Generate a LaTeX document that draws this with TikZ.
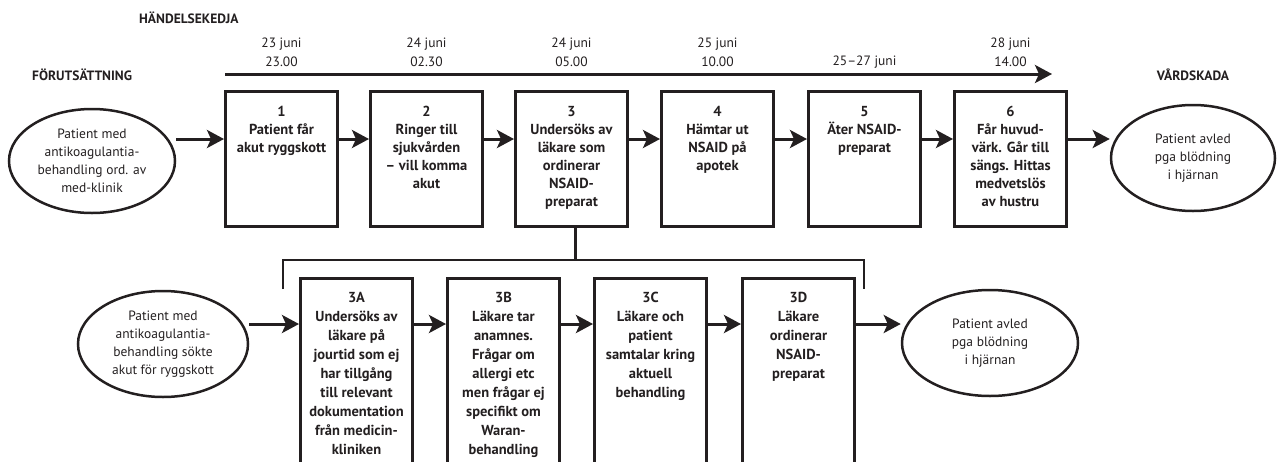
\documentclass[tikz,border=0pt]{standalone}
\usepackage{fontspec}
\setmainfont{PT Sans}
\usetikzlibrary{arrows.meta,shapes.geometric}
\definecolor{ink}{HTML}{231F20}
\begin{document}
\begin{tikzpicture}[x=1pt,y=-1pt,
  every node/.style={text=ink},
  stepbox/.style={draw=ink,line width=3pt,minimum width=112pt,minimum height=135pt,inner sep=0pt,anchor=north west},
  tallbox/.style={stepbox,minimum height=200pt},
  boxtext/.style={anchor=north,align=center,font=\fontsize{14.5}{18}\selectfont\bfseries,inner sep=0pt},
  tallboxtext/.style={boxtext,font=\fontsize{14.5}{19}\selectfont\bfseries},
  stateell/.style={draw=ink,line width=2.5pt,ellipse,inner sep=0pt,align=center,font=\fontsize{13.5}{18}\selectfont},
  arr/.style={draw=ink,line width=3pt,-{Stealth[length=17pt,width=18pt,inset=4pt]}},
  bracket/.style={draw=ink,line width=2.5pt},
  head/.style={font=\fontsize{13.5}{16}\selectfont\bfseries,inner sep=0pt},
  datelbl/.style={font=\fontsize{13.5}{19}\selectfont,align=center,inner sep=0pt}
]
\useasboundingbox (0,0) rectangle (1277,461);
\clip (0,0) rectangle (1277,461);

% headings
\node[head,anchor=west] (hk) at (139,18) {HÄNDELSEKEDJA};
\node[head,anchor=west] (fo) at (32,75) {FÖRUTSÄTTNING};
\node[head] (vs) at (1193,75) {VÅRDSKADA};

% main chain of events
\node[stepbox] (b1) at (224,90) {};
\node[stepbox] (b2) at (369,90) {};
\node[stepbox] (b3) at (514,90) {};
\node[stepbox] (b4) at (660,90) {};
\node[stepbox] (b5) at (807,90) {};
\node[stepbox] (b6) at (953,90) {};

\node[boxtext] (t1) at ([yshift=-16pt]b1.north) {1\\Patient får\\akut ryggskott};
\node[boxtext] (t2) at ([yshift=-16pt]b2.north) {2\\Ringer till\\sjukvården\\– vill komma\\akut};
\node[boxtext] (t3) at ([yshift=-16pt]b3.north) {3\\Undersöks av\\läkare som\\ordinerar\\NSAID-\\preparat};
\node[boxtext] (t4) at ([yshift=-16pt]b4.north) {4\\Hämtar ut\\NSAID på\\apotek};
\node[boxtext] (t5) at ([yshift=-16pt]b5.north) {5\\Äter NSAID-\\preparat};
\node[boxtext] (t6) at ([yshift=-16pt]b6.north) {6\\Får huvud-\\värk. Går till\\sängs. Hittas\\medvetslös\\av hustru};

% dates above the chain
\node[datelbl] (d1) at (b1.north |- 0,52) {23 juni\\23.00};
\node[datelbl] (d2) at (b2.north |- 0,52) {24 juni\\02.30};
\node[datelbl] (d3) at (b3.north |- 0,52) {24 juni\\05.00};
\node[datelbl] (d4) at (b4.north |- 0,52) {25 juni\\10.00};
\node[datelbl] (d5) at (b5.north |- 0,62) {25–27 juni};
\node[datelbl] (d6) at (b6.north |- 0,52) {28 juni\\14.00};

% time axis
\coordinate (tl0) at (225,74);
\coordinate (tl1) at (1052,74);
\draw[arr] (tl0) -- (tl1);

% precondition and outcome
\node[stateell,minimum width=166pt,minimum height=104pt] (e1) at (92,161)
  {Patient med\\antikoagulantia-\\behandling ord. av\\med-klinik};
\node[stateell,minimum width=164pt,minimum height=106pt] (e2) at (1193,158)
  {Patient avled\\pga blödning\\i hjärnan};

\coordinate (r1) at (0,139);
\draw[arr] (e1.east |- r1) -- (b1.west |- r1);
\draw[arr] (b1.east |- r1) -- (b2.west |- r1);
\draw[arr] (b2.east |- r1) -- (b3.west |- r1);
\draw[arr] (b3.east |- r1) -- (b4.west |- r1);
\draw[arr] (b4.east |- r1) -- (b5.west |- r1);
\draw[arr] (b5.east |- r1) -- (b6.west |- r1);
\draw[arr] (b6.east |- r1) -- (e2.west |- r1);

% breakdown of event 3
\node[tallbox] (s1) at (299,277) {};
\node[tallbox] (s2) at (446,277) {};
\node[tallbox] (s3) at (593,277) {};
\node[tallbox] (s4) at (741,277) {};

\node[tallboxtext] (u1) at ([yshift=-15pt]s1.north) {3A\\Undersöks av\\läkare på\\jourtid som ej\\har tillgång\\till relevant\\dokumentation\\från medicin-\\kliniken};
\node[tallboxtext] (u2) at ([yshift=-15pt]s2.north) {3B\\Läkare tar\\anamnes.\\Frågar om\\allergi etc\\men frågar ej\\specifikt om\\Waran-\\behandling};
\node[tallboxtext] (u3) at ([yshift=-15pt]s3.north) {3C\\Läkare och\\patient\\samtalar kring\\aktuell\\behandling};
\node[tallboxtext] (u4) at ([yshift=-15pt]s4.north) {3D\\Läkare\\ordinerar\\NSAID-\\preparat};

\node[stateell,minimum width=170pt,minimum height=106pt] (e3) at (163,344)
  {Patient med\\antikoagulantia-\\behandling sökte\\akut för ryggskott};
\node[stateell,minimum width=176pt,minimum height=106pt] (e4) at (990,343)
  {Patient avled\\pga blödning\\i hjärnan};

\coordinate (r2) at (0,324);
\draw[arr] (e3.east |- r2) -- (s1.west |- r2);
\draw[arr] (s1.east |- r2) -- (s2.west |- r2);
\draw[arr] (s2.east |- r2) -- (s3.west |- r2);
\draw[arr] (s3.east |- r2) -- (s4.west |- r2);
\draw[arr] (s4.east |- r2) -- (e4.west |- r2);

% bracket linking event 3 to its breakdown
\coordinate (bt) at ([xshift=4pt]b3.south |- 0,260);
\coordinate (bl) at (283,289);
\coordinate (br) at (864,289);
\draw[bracket] ([xshift=4pt]b3.south) -- (bt);
\draw[bracket] (bl) -- (bl |- bt) -- (br |- bt) -- (br);
\end{tikzpicture}
\end{document}
